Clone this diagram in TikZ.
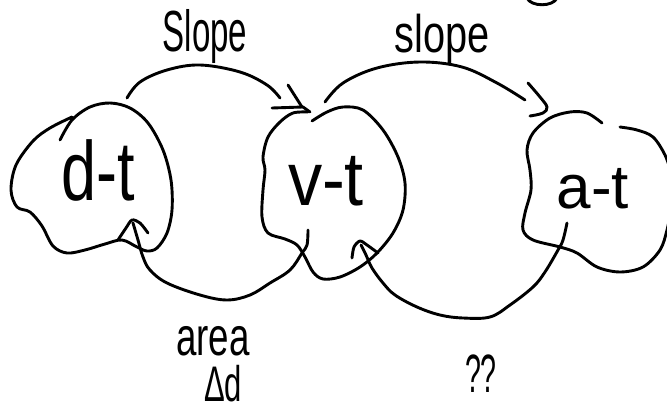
\documentclass[tikz,border=0pt]{standalone}
\usepackage{fontspec}
\setmainfont{Liberation Sans}
\begin{document}
\begin{tikzpicture}[x=1pt,y=-1pt,
  ink/.style={draw=black, line width=2.9pt, line cap=round, line join=round},
  blob/.style={ink},
  conn/.style={ink},
  head/.style={ink},
  lbl/.style={anchor=base, inner sep=0pt, text=black}]
\useasboundingbox (0,0) rectangle (667,412);
\begin{scope}
\clip (0,0) rectangle (667,412);

% partial circle at the top right
\draw[ink] (527,-2) .. controls (531,7) and (553,7) .. (557,-2);

% blobs
\draw[blob] plot[smooth, tension=0.55] coordinates {(60,140) (72,120) (90,107) (110,103) (130,108) (148,123) (163,150) (171,180) (172,210) (167,233) (157,248) (147,251) (137,247) (122,240) (105,244) (85,250) (67,253) (53,246) (42,226) (30,212) (17,207) (11,190) (16,165) (33,141) (50,128) (72,117)};
\draw[blob] plot[smooth, tension=0.55] coordinates {(312,121) (327,112) (343,107) (363,110) (383,130) (398,157) (405,183) (403,210) (393,233) (377,253) (360,267) (340,277) (323,279) (313,272) (305,257) (297,245) (285,239) (268,233) (262,217) (263,190) (265,170) (263,157) (268,137) (280,122) (293,113) (308,112)};
\draw[blob] plot[smooth, tension=0.55] coordinates {(602,123) (587,113) (570,112) (550,118) (533,133) (527,150) (530,170) (531,190) (525,213) (523,230) (533,240) (560,247) (577,253) (597,267) (620,272) (643,267) (660,250) (667,230) (672,205)};
\draw[blob] plot[smooth, tension=0.55] coordinates {(620,127) (637,130) (653,137) (665,155) (672,175)};

% labels inside blobs
\node[lbl, font=\fontsize{84}{84}\selectfont] (dt) at (98,200) {\scalebox{0.75}[1]{d-t}};
\node[lbl, font=\fontsize{76}{76}\selectfont] (vt) at (326,205) {\scalebox{0.9}[1]{v-t}};
\node[lbl, font=\fontsize{62}{62}\selectfont] (at) at (593,208) {a-t};

% connector end points
\coordinate (s1a) at (127,98);  \coordinate (s1b) at (280,98);
\coordinate (s2a) at (325,102); \coordinate (s2b) at (525,100);
\coordinate (b1a) at (308,230); \coordinate (b1b) at (133,223);
\coordinate (b2a) at (567,223); \coordinate (b2b) at (361,245);

% top arcs (slope)
\draw[conn] plot[smooth, tension=0.6] coordinates {(s1a) (140,82) (167,70) (200,65) (240,72) (267,85) (s1b)};
\draw[head] (288,85) -- (302,107);
\draw[head] (272,108) -- (303,107) -- (310,112);
\draw[conn] plot[smooth, tension=0.6] coordinates {(s2a) (343,83) (377,68) (420,62) (462,67) (497,83) (s2b)};
\draw[head] plot[smooth, tension=0.6] coordinates {(528,83) (540,97) (547,107) (543,113) (530,116)};

% bottom arcs
\draw[conn] plot[smooth, tension=0.6] coordinates {(b1a) (307,245) (302,253) (290,270) (270,283) (250,295) (227,300) (200,295) (167,283) (150,270) (143,257) (138,240) (b1b)};
\draw[head] plot[smooth, tension=0.5] coordinates {(118,240) (126,228) (132,220) (140,223) (148,233)};
\draw[conn] plot[smooth, tension=0.6] coordinates {(b2a) (563,240) (558,250) (545,272) (533,287) (510,305) (490,317) (463,318) (440,315) (417,307) (395,295) (383,283) (372,268) (366,255) (b2b)};
\draw[head] plot[smooth, tension=0.5] coordinates {(352,258) (354,247) (360,241) (367,245) (378,253)};
\end{scope}

% text labels
\node[lbl, font=\fontsize{58}{58}\selectfont] (slope1) at (205,52) {\scalebox{0.57}[1]{Slope}};
\node[lbl, font=\fontsize{53}{53}\selectfont] (slope2) at (442,53) {\scalebox{0.75}[1]{slope}};
\node[lbl, font=\fontsize{54}{54}\selectfont] (area) at (213,355) {\scalebox{0.68}[1]{area}};
\node[lbl, font=\fontsize{50}{50}\selectfont] (dd) at (223,401) {\scalebox{0.62}[1]{Δd}};
\node[lbl, font=\fontsize{54}{54}\selectfont] (qq) at (481,392) {\scalebox{0.53}[1]{??}};
\end{tikzpicture}
\end{document}
